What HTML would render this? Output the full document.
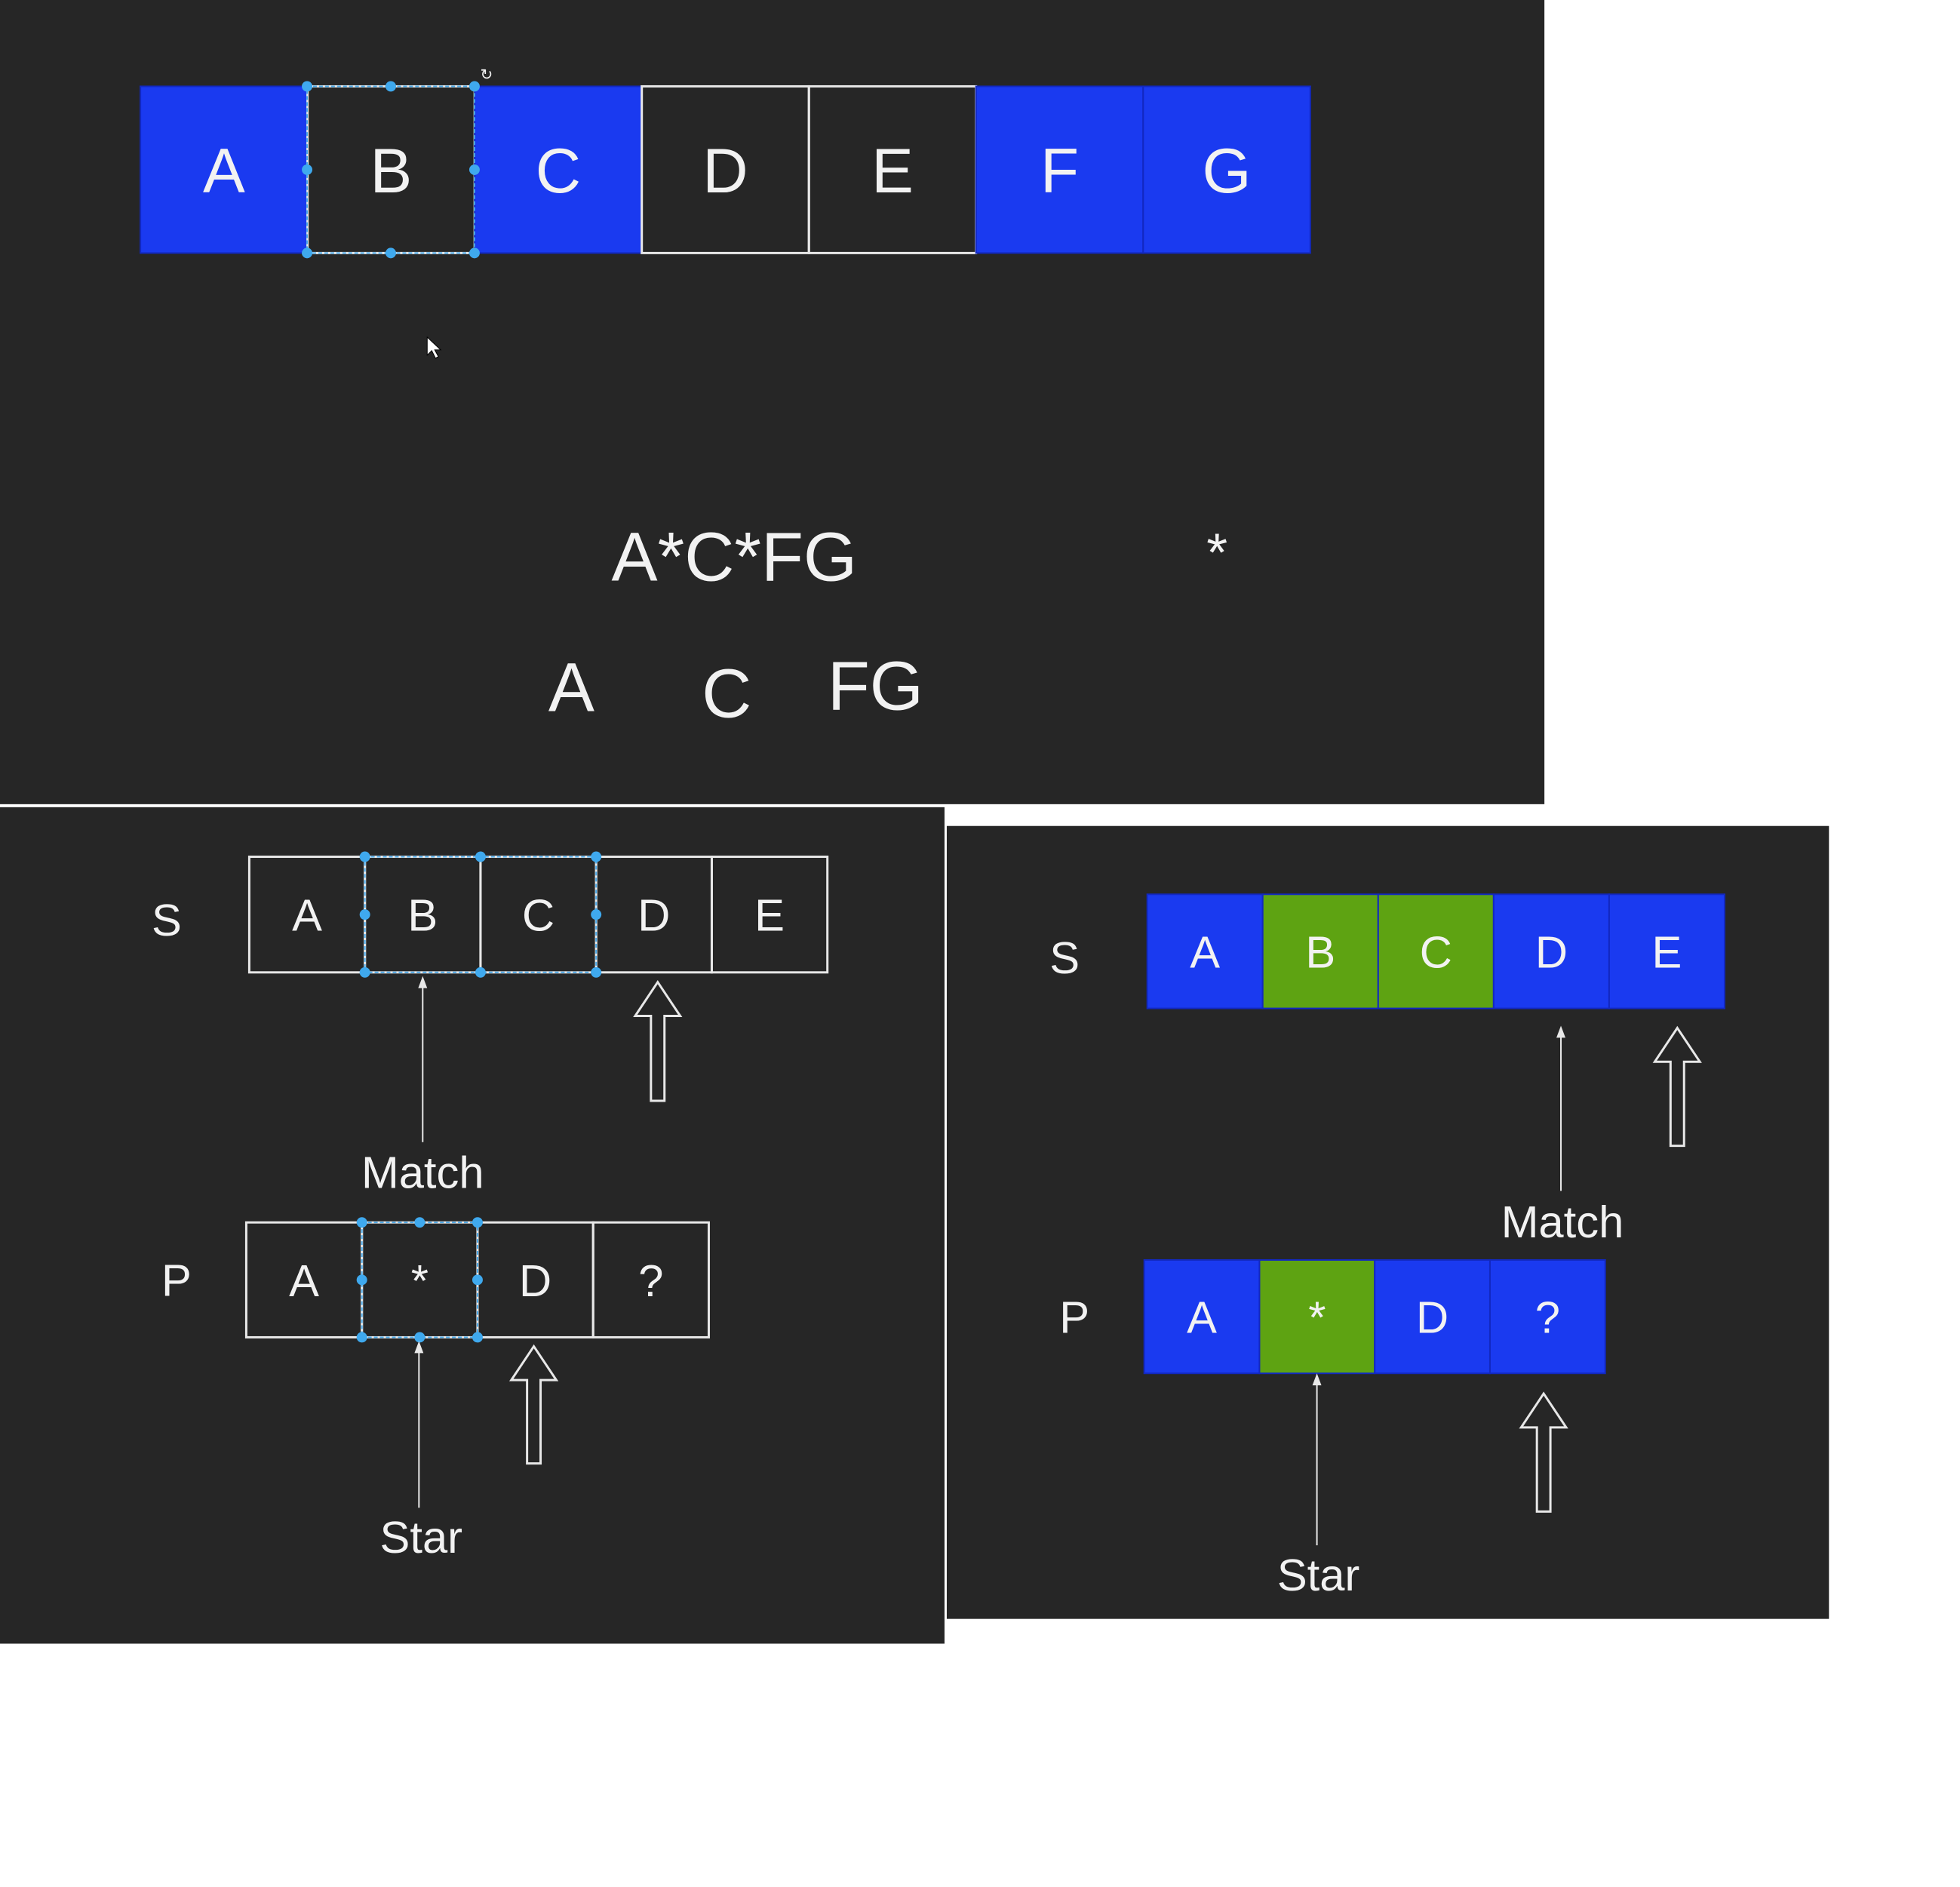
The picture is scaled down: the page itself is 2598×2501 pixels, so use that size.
<!DOCTYPE html>
<html><head><meta charset="utf-8"><style>
html,body{margin:0;padding:0;background:#fff;}
svg{display:block;}
text{font-family:"Liberation Sans",sans-serif;fill:#f2f2f2;text-anchor:middle;}
</style></head><body>
<svg width="2598" height="2501" viewBox="0 0 2598 2501" xmlns="http://www.w3.org/2000/svg">
<rect x="0" y="0" width="2598" height="2501" fill="#ffffff"/>
<g transform="scale(0.9952)">
<rect x="0" y="0" width="2057" height="1071" fill="#262626"/>
<rect x="0" y="1075" width="1258" height="1114" fill="#262626"/>
<rect x="1261" y="1100" width="1175" height="1056" fill="#262626"/>
<g id="g"></g>
</g>
</svg>
<script>
const topLetters=["A","B","C","D","E","F","G"];
const topFill=["b","n","b","n","n","b","b"];
const blSLetters=["A","B","C","D","E"];
const blPLetters=["A","*","D","?"];
const brSLetters=["A","B","C","D","E"];
const brSFill=["b","g","g","b","b"];
const brPLetters=["A","*","D","?"];
const brPFill=["b","g","b","b"];
const NS="http://www.w3.org/2000/svg";
const G=document.getElementById('g');
const COL={b:"#1a3af0",g:"#5ea312",n:"none"};
function mk(t,a){const e=document.createElementNS(NS,t);for(const k in a)e.setAttribute(k,a[k]);G.appendChild(e);return e;}
function txt(x,y,s,size,name){const e=mk('text',{x:x,y:y,'font-size':size});e.textContent=s;


return e;}
function row(x0,y0,w,h,letters,fills,size,name){
letters.forEach((l,i)=>{const f=fills?fills[i]:"n";
const r=mk('rect',{x:x0+i*w,y:y0,width:w,height:h,fill:COL[f],stroke:f==="n"?"#e8e8e8":"#1228c0","stroke-width":f==="n"?3:2});


txt(x0+i*w+w/2,y0+h/2+size*0.36,l,size,name+'-letter-'+i);});}
function sel(x0,y0,x1,y1,name){
const r=mk('rect',{x:x0,y:y0,width:x1-x0,height:y1-y0,fill:"none",stroke:"#4aa8e8","stroke-width":2,"stroke-dasharray":"5 3"});


const xm=(x0+x1)/2,ym=(y0+y1)/2;
[[x0,y0],[xm,y0],[x1,y0],[x0,ym],[x1,ym],[x0,y1],[xm,y1],[x1,y1]].forEach(p=>{const c=mk('circle',{cx:p[0],cy:p[1],r:7,fill:"#3fa9ee"});

});}
function thin(x,y0,y1,name){const l=mk('line',{x1:x,y1:y1,x2:x,y2:y0+6,stroke:"#e8e8e8","stroke-width":2});


const p=mk('path',{d:`M${x-6} ${y0+16} L${x} ${y0} L${x+6} ${y0+16} Z`,fill:"#e8e8e8"});

}
function hollow(x,y0,y1,name){const hw=30,sw=9,hh=45;
const p=mk('path',{d:`M${x} ${y0} L${x+hw} ${y0+hh} L${x+sw} ${y0+hh} L${x+sw} ${y1} L${x-sw} ${y1} L${x-sw} ${y0+hh} L${x-hw} ${y0+hh} Z`,fill:"none",stroke:"#e8e8e8","stroke-width":3});

}
// top
row(187,115,222.6,222,topLetters,topFill,84,'top-row');
sel(409,115,632,337,'selection-box-b');
const rot=mk('text',{x:648,y:106,'font-size':20,fill:'#3fa9ee'});rot.textContent='↻';


const cur=mk('path',{d:"M569 449 L569 473 L575 467 L580 477 L584 475 L579 466 L587 466 Z",fill:"#fff",stroke:"#000","stroke-width":1});


txt(978,773,"A*C*FG",92,'pattern-text');
txt(1621,760,"*",72,'star-symbol');
txt(761,947,"A",92,'segment-a');
txt(968,955,"C",92,'segment-c');
txt(1166,945,"FG",92,'segment-fg');
// bottom-left
txt(222,1246,"S",60,'s-label-left');
row(332,1141,154,154,blSLetters,null,60,'left-s-row');
sel(486,1141,794,1295,'selection-bc');
thin(563,1300,1521,'match-arrow-left');
txt(563,1582,"Match",60,'match-label-left');
hollow(876,1308,1466,'pointer-arrow-left-s');
txt(235,1726,"P",60,'p-label-left');
row(328,1628,154,153,blPLetters,null,60,'left-p-row');
sel(482,1628,636,1781,'selection-star');
thin(558,1786,2008,'star-arrow-left');
txt(561,2068,"Star",60,'star-label-left');
hollow(711,1793,1949,'pointer-arrow-left-p');
// bottom-right
txt(1418,1296,"S",60,'s-label-right');
row(1528,1191,153.8,152,brSLetters,brSFill,60,'right-s-row');
thin(2079,1366,1586,'match-arrow-right');
txt(2081,1648,"Match",60,'match-label-right');
hollow(2234,1369,1526,'pointer-arrow-right-s');
txt(1431,1775,"P",60,'p-label-right');
row(1524,1678,153.5,151,brPLetters,brPFill,60,'right-p-row');
thin(1754,1829,2058,'star-arrow-right');
txt(1756,2118,"Star",60,'star-label-right');
hollow(2056,1856,2013,'pointer-arrow-right-p');
</script>
</body></html>
